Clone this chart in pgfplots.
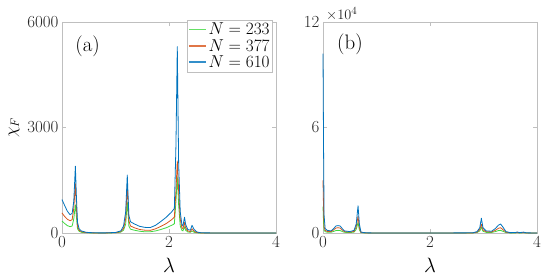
\documentclass[border=0pt]{standalone}
\usepackage{pgfplots}
\pgfplotsset{compat=1.18}
\definecolor{mgreen}{rgb}{0.25,0.85,0.25}
\definecolor{morange}{rgb}{0.85,0.33,0.10}
\definecolor{mblue}{rgb}{0.00,0.45,0.74}
\definecolor{axgray}{rgb}{0.75,0.75,0.75}
\definecolor{txgray}{rgb}{0.15,0.15,0.15}
\pgfplotsset{
  myax/.style={
    scale only axis, width=214bp, height=211bp,
    xmin=0, xmax=4, xtick={0,2,4}, xticklabels={0,2,4},
    axis line style={axgray, line width=0.6pt},
    tick style={axgray, line width=0.6pt},
    major tick length=4bp,
    tick align=inside,
    xtick pos=both, ytick pos=both,
    scaled y ticks=false,
    ticklabel style={font=\fontsize{17}{20}\selectfont, text=txgray},
    xlabel={$\lambda$},
    xlabel style={font=\fontsize{22}{22}\selectfont, yshift=-3bp},
    every axis plot/.append style={line width=0.8pt, line join=round},
    clip=false,
  }
}
\begin{document}
\begin{tikzpicture}[x=1bp,y=1bp]
\useasboundingbox (0,0) rectangle (543,278);
\begin{axis}[myax, at={(62bp,45bp)}, anchor=south west,
  ymin=0, ymax=6000, ytick={0,3000,6000}, yticklabels={0,3000,6000},
  ylabel={$\chi_F$}, ylabel style={font=\fontsize{17}{17}\selectfont, yshift=1bp},
  legend style={at={(rel axis cs:0.985,1.01)}, anchor=north east, draw=axgray,
    font=\fontsize{16}{16}\selectfont, inner sep=1pt, row sep=-1pt},
  legend cell align=left,
  legend image code/.code={\draw[#1, line width=1.5pt, draw opacity=0.8] (0cm,0cm) -- (0.6cm,0cm);},
]
\addplot[draw=mgreen] coordinates {(0,340) (0.05,270) (0.1,210) (0.15,180) (0.19,200) (0.22,400) (0.25,800) (0.27,450) (0.29,120) (0.32,50) (0.36,20) (0.45,6) (0.6,2) (0.8,1) (1.0,6) (1.1,25) (1.15,80) (1.19,250) (1.22,880) (1.25,200) (1.28,110) (1.35,80) (1.45,50) (1.55,35) (1.65,35) (1.75,60) (1.85,100) (1.95,150) (2.05,220) (2.1,260) (2.13,900) (2.155,1600) (2.18,800) (2.21,200) (2.24,80) (2.26,60) (2.29,180) (2.31,80) (2.35,30) (2.4,20) (2.43,60) (2.47,20) (2.52,5) (2.6,1) (3,0) (4,0)};
\addlegendentry{$N=233$}
\addplot[draw=morange] coordinates {(0,570) (0.05,470) (0.1,390) (0.15,350) (0.19,380) (0.22,700) (0.25,1400) (0.27,700) (0.29,200) (0.32,80) (0.36,40) (0.45,12) (0.6,3) (0.8,2) (1.0,10) (1.1,40) (1.15,130) (1.19,400) (1.22,1350) (1.25,350) (1.28,200) (1.35,150) (1.45,100) (1.55,80) (1.65,75) (1.75,120) (1.85,190) (1.95,270) (2.05,380) (2.1,450) (2.13,1200) (2.155,2050) (2.18,1200) (2.21,400) (2.24,150) (2.26,120) (2.29,300) (2.31,150) (2.35,60) (2.4,40) (2.43,120) (2.47,50) (2.52,15) (2.6,3) (3,0) (4,0)};
\addlegendentry{$N=377$}
\addplot[draw=mblue] coordinates {(0,950) (0.05,780) (0.1,620) (0.15,520) (0.19,560) (0.22,900) (0.25,1900) (0.27,1000) (0.29,300) (0.32,120) (0.36,60) (0.45,20) (0.6,5) (0.8,3) (1.0,15) (1.1,60) (1.15,200) (1.19,600) (1.22,1650) (1.25,500) (1.28,320) (1.35,260) (1.45,190) (1.55,160) (1.65,155) (1.75,220) (1.85,330) (1.95,450) (2.05,600) (2.1,700) (2.13,2500) (2.155,5300) (2.18,2000) (2.21,600) (2.24,250) (2.26,200) (2.29,450) (2.31,250) (2.35,100) (2.4,80) (2.43,220) (2.47,100) (2.52,30) (2.6,5) (3,0) (4,0)};
\addlegendentry{$N=610$}
\node[font=\fontsize{21}{21}\selectfont, text=black] at (rel axis cs:0.12,0.886) {(a)};
\end{axis}
\begin{axis}[myax, at={(323bp,45bp)}, anchor=south west,
  ymin=0, ymax=120000, ytick={0,60000,120000},
  yticklabels={0,6,12},
]
\addplot[draw=mgreen] coordinates {(0,15000) (0.01,6000) (0.02,1500) (0.04,800) (0.08,450) (0.15,400) (0.2,900) (0.24,1400) (0.28,1500) (0.32,1400) (0.36,850) (0.4,400) (0.5,250) (0.58,500) (0.62,2000) (0.655,6000) (0.68,1800) (0.71,150) (0.8,30) (1.0,5) (2.0,2) (2.8,30) (2.88,300) (2.93,1200) (2.96,3200) (2.99,1000) (3.05,350) (3.15,300) (3.22,800) (3.28,1400) (3.32,1500) (3.36,1000) (3.42,250) (3.5,50) (3.6,80) (3.63,150) (3.67,50) (3.75,120) (3.8,20) (4,0)};
\addplot[draw=morange] coordinates {(0,30000) (0.01,14000) (0.02,3500) (0.04,1500) (0.08,900) (0.15,800) (0.2,1800) (0.24,2800) (0.28,3000) (0.32,2800) (0.36,1700) (0.4,800) (0.5,500) (0.58,900) (0.62,3500) (0.655,9500) (0.68,3000) (0.71,300) (0.8,60) (1.0,10) (2.0,5) (2.8,60) (2.88,500) (2.93,2000) (2.96,5000) (2.99,1800) (3.05,700) (3.15,600) (3.22,1500) (3.28,2700) (3.32,3000) (3.36,2000) (3.42,500) (3.5,100) (3.6,150) (3.63,300) (3.67,100) (3.75,250) (3.8,50) (4,0)};
\addplot[draw=mblue] coordinates {(0,102000) (0.01,50000) (0.02,10000) (0.04,2500) (0.08,1500) (0.15,1200) (0.2,2500) (0.24,4000) (0.28,4200) (0.32,4000) (0.36,2500) (0.4,1200) (0.5,800) (0.58,1500) (0.62,5000) (0.655,15500) (0.68,5000) (0.71,500) (0.8,100) (1.0,20) (2.0,10) (2.8,100) (2.88,800) (2.93,3000) (2.96,8400) (2.99,3000) (3.05,1200) (3.15,1000) (3.22,2500) (3.28,4500) (3.32,5100) (3.36,3500) (3.42,800) (3.5,200) (3.6,300) (3.63,600) (3.67,200) (3.75,500) (3.8,100) (4,0)};
\node[font=\fontsize{21}{21}\selectfont, text=black] at (rel axis cs:0.126,0.896) {(b)};
\node[anchor=south west, inner sep=1pt, xshift=2bp, font=\fontsize{15}{15}\selectfont, text=txgray] at (rel axis cs:0,1) {$\times10^{4}$};
\end{axis}
\end{tikzpicture}
\end{document}
